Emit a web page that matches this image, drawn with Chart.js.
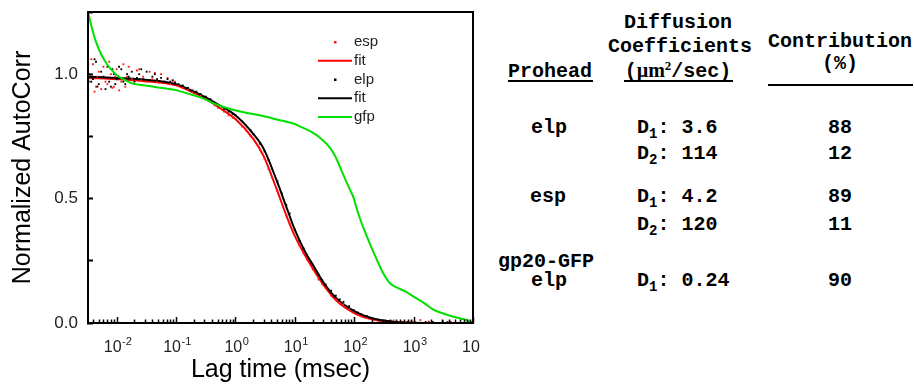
<!DOCTYPE html>
<html>
<head>
<meta charset="utf-8">
<script src="https://cdn.jsdelivr.net/npm/chart.js@4.4.0/dist/chart.umd.min.js"></script>
<style>
  html, body { margin: 0; padding: 0; background: #fff; }
  body { width: 914px; height: 386px; position: relative; overflow: hidden; }
  #plot { position: absolute; left: 0; top: 0; width: 480px; height: 386px; }
  .t {
    position: absolute;
    font-family: "Liberation Mono", "Courier New", monospace;
    font-weight: bold;
    font-size: 20px;
    line-height: 20px;
    color: #000;
    white-space: pre;
  }
  .c { transform: translateX(-50%); }
  .rule { position: absolute; height: 2px; background: #000; }
  .sub { font-size: 14px; position: relative; top: 5px; }
  .mu { font-family: "Liberation Serif", serif; }
  .sup { font-size: 13px; position: relative; top: -7px; font-family: "Liberation Serif", serif; }
</style>
</head>
<body>
<div id="plot"><canvas id="chart" width="480" height="386"></canvas></div>

<!-- table of fit results -->
<div class="t c" style="left:678px; top:13px;">Diffusion</div>
<div class="t c" style="left:680px; top:37px;">Coefficients</div>
<div class="t c" style="left:678px; top:60px;">(<span class="mu">µm</span><span class="sup">2</span>/sec)</div>
<div class="t c" style="left:550px; top:62px;">Prohead</div>
<div class="t c" style="left:840px; top:32px;">Contribution</div>
<div class="t c" style="left:840px; top:54px;">(%)</div>
<div class="rule" style="left:508px; top:80px; width:85px;"></div>
<div class="rule" style="left:624px; top:80px; width:109px;"></div>
<div class="rule" style="left:768px; top:84px; width:145px;"></div>

<div class="t c" style="left:549px; top:118px;">elp</div>
<div class="t" style="left:637px; top:118px;">D<span class="sub">1</span>: 3.6</div>
<div class="t c" style="left:840px; top:118px;">88</div>
<div class="t" style="left:637px; top:144px;">D<span class="sub">2</span>: 114</div>
<div class="t c" style="left:840px; top:144px;">12</div>

<div class="t c" style="left:548px; top:187px;">esp</div>
<div class="t" style="left:637px; top:187px;">D<span class="sub">1</span>: 4.2</div>
<div class="t c" style="left:840px; top:187px;">89</div>
<div class="t" style="left:637px; top:215px;">D<span class="sub">2</span>: 120</div>
<div class="t c" style="left:840px; top:215px;">11</div>

<div class="t c" style="left:546px; top:252px;">gp20-GFP</div>
<div class="t c" style="left:549px; top:271px;">elp</div>
<div class="t" style="left:637px; top:271px;">D<span class="sub">1</span>: 0.24</div>
<div class="t c" style="left:840px; top:271px;">90</div>

<script>
// ── Data ────────────────────────────────────────────────────
const lagTimes = [
  0.0035, 0.00375, 0.004, 0.00425, 0.0045, 0.00475, 0.005, 0.0055, 0.006, 0.0065,
  0.007, 0.0075, 0.008, 0.0085, 0.009, 0.0095, 0.01, 0.011, 0.012, 0.013,
  0.014, 0.015, 0.016, 0.018, 0.02, 0.022, 0.024, 0.026, 0.028, 0.032,
  0.036, 0.04, 0.044, 0.048, 0.056, 0.064, 0.072, 0.08, 0.088, 0.096,
  0.11, 0.13, 0.16, 0.19, 0.22, 0.26, 0.32, 0.38, 0.45, 0.51,
  0.64, 0.77, 0.9, 1.0, 1.3, 1.5, 1.8, 2.0, 2.6, 3.1,
  3.6, 4.1, 5.1, 6.1, 7.2, 8.2, 10, 12, 14, 16,
  20, 25, 29, 33, 41, 49, 57, 66, 82, 98,
  115, 131, 164, 197, 230, 262, 330, 390, 460, 520,
  660, 790, 920, 1050, 1300, 1600, 1800, 2100, 2600, 3100,
  3700, 4200, 5200
];

const espData = [
  0.97, 1.06, 1.04, 0.93, 0.95, 0.99, 1.01, 0.94, 1.03, 0.97,
  0.96, 1.05, 1.00, 0.945, 0.95, 0.99, 1.02, 0.935, 0.97, 1.04,
  0.95, 0.99, 1.03, 0.98, 0.96, 1.015, 1.02, 0.975, 0.99, 0.97,
  1.01, 0.98, 1.005, 0.97, 1.00, 0.97, 0.985, 0.96, 0.975, 0.97,
  0.955, 0.945, 0.94, 0.93, 0.92, 0.915, 0.90, 0.89, 0.875, 0.865,
  0.85, 0.835, 0.825, 0.82, 0.79, 0.775, 0.75, 0.74, 0.695, 0.66,
  0.62, 0.585, 0.53, 0.48, 0.435, 0.40, 0.35, 0.31, 0.28, 0.255,
  0.215, 0.175, 0.155, 0.14, 0.11, 0.095, 0.082, 0.075, 0.055, 0.042,
  0.032, 0.027, 0.02, 0.015, 0.012, 0.008, 0.006, 0.004, 0.01, 0.002,
  0.005, 0.0, 0.008, 0.003, 0.012, 0.0, 0.006, 0.004, 0.0, 0.008,
  0.002, 0.005, 0.0
];

const elpData = [
  1.00, 0.97, 0.98, 1.06, 1.05, 0.95, 0.96, 1.01, 0.99, 0.94,
  1.03, 0.97, 0.95, 1.02, 1.00, 0.96, 0.98, 1.03, 1.02, 0.97,
  0.96, 1.00, 0.99, 1.01, 0.97, 0.985, 1.00, 1.02, 0.98, 1.01,
  0.975, 0.99, 1.00, 0.98, 0.985, 0.97, 0.98, 0.97, 0.975, 0.965,
  0.96, 0.955, 0.945, 0.935, 0.93, 0.92, 0.91, 0.90, 0.885, 0.875,
  0.86, 0.85, 0.84, 0.835, 0.81, 0.795, 0.775, 0.76, 0.72, 0.69,
  0.655, 0.62, 0.57, 0.52, 0.475, 0.44, 0.375, 0.33, 0.30, 0.275,
  0.235, 0.195, 0.172, 0.155, 0.13, 0.11, 0.095, 0.085, 0.068, 0.052,
  0.042, 0.035, 0.027, 0.02, 0.016, 0.012, 0.009, 0.006, 0.004, 0.005,
  0.002, 0.004, 0.001, 0.003, 0.0, 0.004, 0.001, 0.003, 0.0, 0.002,
  0.003, 0.001, 0.0
];

const fitTimes = [
  0.0033, 0.01, 0.03, 0.1, 0.2, 0.3, 0.5, 1, 2, 3,
  5, 7, 10, 15, 20, 30, 50, 100, 200, 500,
  1000, 3000, 10000
];
const espFit = [
  0.985, 0.98, 0.972, 0.955, 0.925, 0.905, 0.87, 0.82, 0.74, 0.67,
  0.535, 0.44, 0.35, 0.27, 0.22, 0.155, 0.09, 0.04, 0.015, 0.003,
  0.0, 0.0, 0.0
];
const elpFit = [
  0.99, 0.985, 0.978, 0.96, 0.93, 0.91, 0.88, 0.835, 0.76, 0.70,
  0.57, 0.475, 0.375, 0.285, 0.235, 0.165, 0.10, 0.048, 0.019, 0.004,
  0.001, 0.0, 0.0
];

const gfpTimes = [
  0.0033, 0.0038, 0.0045, 0.0055, 0.0067, 0.008, 0.01, 0.013, 0.0188, 0.03,
  0.047, 0.07, 0.108, 0.17, 0.25, 0.35, 0.48, 0.7, 0.91, 1.5,
  2.3, 3.3, 5, 7, 9.4, 13, 20, 28, 39, 48,
  57, 70, 85, 97, 110, 125, 150, 190, 240, 300,
  400, 550, 750, 1000, 1500, 2150, 3000, 4700, 7000, 10000
];
const gfpData = [
  1.25, 1.19, 1.13, 1.08, 1.045, 1.02, 0.997, 0.98, 0.962, 0.955,
  0.948, 0.942, 0.934, 0.92, 0.908, 0.893, 0.878, 0.865, 0.857, 0.845,
  0.837, 0.829, 0.818, 0.81, 0.802, 0.787, 0.765, 0.74, 0.705, 0.67,
  0.63, 0.58, 0.535, 0.505, 0.46, 0.42, 0.37, 0.31, 0.255, 0.205,
  0.16, 0.14, 0.125, 0.106, 0.08, 0.054, 0.04, 0.025, 0.015, 0.002
];

// ── Axis ticks ──────────────────────────────────────────────
const xDecades = [0.001, 0.01, 0.1, 1, 10, 100, 1000, 10000];
const xDecadeExponents = ["-3", "-2", "-1", "0", "1", "2", "3", "4"];
const xMinorSteps = [1, 2, 3, 4, 5, 6, 7, 8, 9];
const yTickValues = [0, 0.5, 1];
const yTickLabels = ["0.0", "0.5", "1.0"];

const X_MIN = 0.0033, X_MAX = 10000;

const xTickValues = [];
xDecades.forEach((d) => {
  xMinorSteps.forEach((m) => {
    const v = +(d * m).toPrecision(3);
    if (v >= X_MIN && v <= X_MAX) xTickValues.push(v);
  });
});

const pts = (xs, ys) => xs.map((x, i) => ({ x, y: ys[i] }));

// ── Plugins ─────────────────────────────────────────────────
// box around the plot, inward x ticks and 10^n labels
const frameAndTicks = {
  id: "frameAndTicks",
  afterDatasetsDraw(chart) {
    const { ctx, chartArea: a, scales: { x } } = chart;
    ctx.save();
    ctx.strokeStyle = "#000";
    ctx.lineWidth = 2;
    ctx.strokeRect(a.left, a.top, a.right - a.left, a.bottom - a.top);
    ctx.lineWidth = 1.5;
    ctx.beginPath();
    x.ticks.forEach((t) => {
      const px = Math.round(x.getPixelForValue(t.value)) + 0.5;
      const len = t.major ? 6 : 3.5;
      ctx.moveTo(px, a.bottom);
      ctx.lineTo(px, a.bottom - len);
    });
    ctx.stroke();

    // decade labels with raised exponent
    ctx.fillStyle = "#222";
    ctx.textBaseline = "alphabetic";
    ctx.textAlign = "left";
    const baseFont = '16px "Liberation Sans", Arial, sans-serif';
    const expFont = '11px "Liberation Sans", Arial, sans-serif';
    xDecades.forEach((d, i) => {
      if (d < X_MIN || d > X_MAX) return;
      const px = x.getPixelForValue(d);
      ctx.font = baseFont;
      const w1 = ctx.measureText("10").width;
      ctx.font = expFont;
      const w2 = ctx.measureText(xDecadeExponents[i]).width;
      const left = px - (w1 + w2) / 2 + 1;
      ctx.font = baseFont;
      ctx.fillText("10", left, 352);
      ctx.font = expFont;
      ctx.fillText(xDecadeExponents[i], left + w1 + 0.5, 345);
    });
    ctx.restore();
  },
};

const insideLegend = {
  id: "insideLegend",
  afterDraw(chart) {
    const ctx = chart.ctx;
    ctx.save();
    ctx.font = '15px "Liberation Sans", Arial, sans-serif';
    ctx.textBaseline = "middle";
    ctx.textAlign = "left";
    chart.data.datasets.forEach((ds, i) => {
      const y = 42 + i * 18.75;
      if (ds.showLine === false) {
        ctx.fillStyle = ds.backgroundColor;
        ctx.fillRect(334, y - 1, 2.5, 2.5);
      } else {
        ctx.strokeStyle = ds.borderColor;
        ctx.lineWidth = 2;
        ctx.beginPath();
        ctx.moveTo(318, y);
        ctx.lineTo(352, y);
        ctx.stroke();
      }
      ctx.fillStyle = "#222";
      ctx.fillText(ds.label, 354, y);
    });
    ctx.restore();
  },
};

// ── Chart ───────────────────────────────────────────────────
Chart.defaults.font.family = '"Liberation Sans", Arial, sans-serif';

new Chart(document.getElementById("chart").getContext("2d"), {
  type: "line",
  data: {
    datasets: [
      {
        label: "esp", data: pts(lagTimes, espData), showLine: false,
        pointStyle: "rect", pointRadius: 1.3, pointBorderWidth: 0,
        backgroundColor: "#ff1a1a", borderColor: "#ff1a1a", order: 2,
      },
      {
        label: "fit", data: pts(fitTimes, espFit), borderColor: "#ff0000",
        borderWidth: 2, pointRadius: 0, cubicInterpolationMode: "monotone", order: 4,
      },
      {
        label: "elp", data: pts(lagTimes, elpData), showLine: false,
        pointStyle: "rect", pointRadius: 1.3, pointBorderWidth: 0,
        backgroundColor: "#000", borderColor: "#000", order: 1,
      },
      {
        label: "fit", data: pts(fitTimes, elpFit), borderColor: "#000",
        borderWidth: 2, pointRadius: 0, cubicInterpolationMode: "monotone", order: 3,
      },
      {
        label: "gfp", data: pts(gfpTimes, gfpData), borderColor: "#00e000",
        borderWidth: 2, pointRadius: 0, cubicInterpolationMode: "monotone", order: 0,
      },
    ],
  },
  options: {
    responsive: false,
    animation: false,
    devicePixelRatio: 1,
    layout: { padding: { top: 12, right: 7, left: 0, bottom: 0 } },
    plugins: { legend: { display: false }, tooltip: { enabled: false } },
    scales: {
      x: {
        type: "logarithmic",
        min: X_MIN,
        max: X_MAX,
        afterBuildTicks: (s) => {
          s.ticks = xTickValues.map((v) => ({ value: v, major: xDecades.includes(v) }));
        },
        afterFit: (s) => {
          s.height = 63;
          s.paddingLeft = 0;
          s.paddingRight = 0;
        },
        grid: { display: false },
        border: { display: true, color: "#000", width: 2 },
        ticks: { display: false, autoSkip: false, maxRotation: 0 },
        title: {
          display: true, text: "Lag time (msec)", color: "#000",
          font: { size: 25 }, padding: { top: 0, bottom: 1 },
        },
      },
      y: {
        min: 0,
        max: 1.25,
        afterFit: (s) => {
          s.width = 88;
          s.paddingTop = 0;
          s.paddingBottom = 0;
        },
        grid: { drawOnChartArea: false, drawTicks: true, tickLength: -5, color: "#000", tickWidth: 2 },
        border: { display: true, color: "#000", width: 2 },
        ticks: {
          stepSize: 0.25, padding: 15, color: "#222", font: { size: 17 },
          callback: (v) => {
            const i = yTickValues.indexOf(v);
            return i >= 0 ? yTickLabels[i] : "";
          },
        },
        title: {
          display: true, text: "Normalized AutoCorr", color: "#000",
          font: { size: 25 }, padding: { top: 8, bottom: 0 },
        },
      },
    },
  },
  plugins: [frameAndTicks, insideLegend],
});
</script>
</body>
</html>
